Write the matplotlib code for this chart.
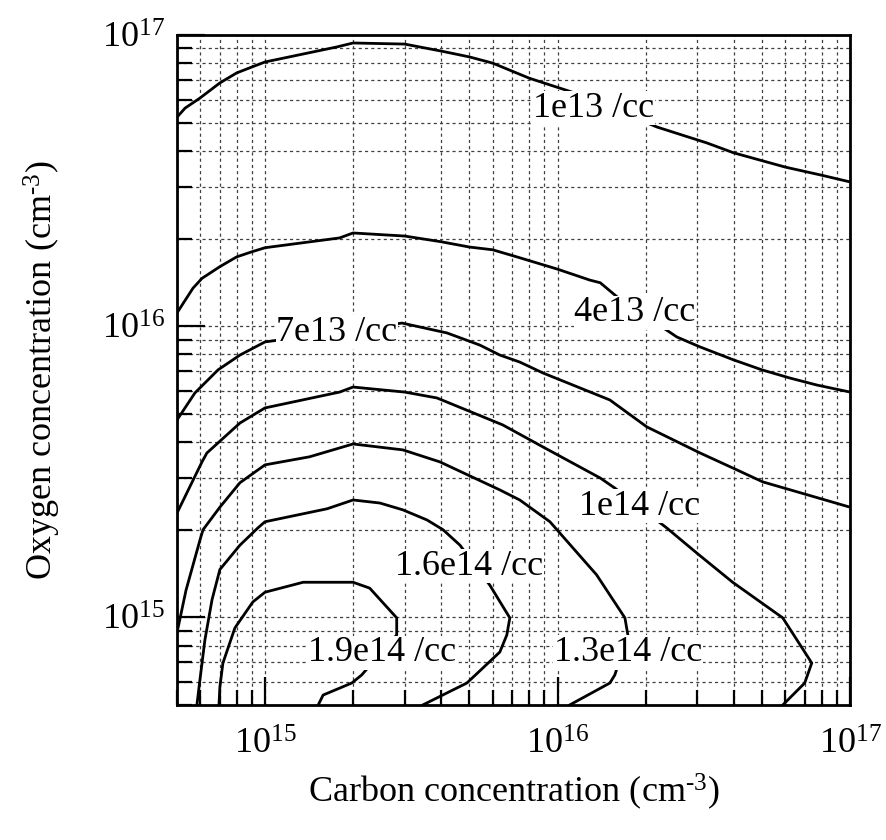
import matplotlib
matplotlib.use('Agg')
from matplotlib import pyplot as plt
from matplotlib.ticker import NullFormatter

plt.rcParams['font.family'] = ['Liberation Serif', 'DejaVu Serif']
plt.rcParams['mathtext.fontset'] = 'custom'
plt.rcParams['mathtext.rm'] = 'Liberation Serif'
plt.rcParams['mathtext.it'] = 'Liberation Serif:italic'

# contour lines (carbon, oxygen in cm^-3)
c1e13_x = [5.0e14, 5.33e14, 6.0e14, 7.0e14, 8.0e14, 9.0e14, 1.0e15, 1.76e15,
           2.0e15, 3.0e15, 4.0e15, 5.0e15, 6.0e15, 8.0e15, 1.12e16, 2.19e16,
           3.24e16, 4.0e16, 6.0e16, 8.0e16, 1.0e17]
c1e13_y = [5.22e16, 5.61e16, 6.08e16, 6.84e16, 7.41e16, 7.76e16, 8.08e16,
           9.10e16, 9.39e16, 9.31e16, 8.81e16, 8.41e16, 8.01e16, 7.11e16,
           6.37e16, 4.83e16, 4.26e16, 3.94e16, 3.52e16, 3.30e16, 3.13e16]

c4e13_x = [5.0e14, 5.67e14, 6.09e14, 7.0e14, 8.0e14, 9.0e14, 1.0e15, 1.8e15,
           2.0e15, 3.0e15, 4.0e15, 5.0e15, 6.0e15, 7.26e15, 1.0e16, 1.29e16,
           1.4e16, 1.6e16, 2.56e16, 3.07e16, 4.0e16, 5.0e16, 6.22e16, 7.7e16,
           1.0e17]
c4e13_y = [1.11e16, 1.35e16, 1.46e16, 1.60e16, 1.73e16, 1.80e16, 1.86e16,
           2.01e16, 2.09e16, 2.04e16, 1.95e16, 1.87e16, 1.83e16, 1.73e16,
           1.57e16, 1.44e16, 1.41e16, 1.26e16, 9.18e15, 8.49e15, 7.66e15,
           7.08e15, 6.64e15, 6.28e15, 5.94e15]

c7e13_x = [5.0e14, 5.76e14, 6.91e14, 8.21e14, 1.0e15, 2.94e15, 4.19e15,
           5.43e15, 6.35e15, 7.43e15, 8.91e15, 1.51e16, 2.02e16, 3.07e16,
           3.97e16, 5.03e16, 1.0e17]
c7e13_y = [4.76e15, 5.90e15, 7.08e15, 7.96e15, 8.83e15, 1.025e16, 9.48e15,
           8.61e15, 7.96e15, 7.53e15, 6.91e15, 5.58e15, 4.51e15, 3.67e15,
           3.26e15, 2.92e15, 2.39e15]

c1e14_x = [5.0e14, 6.09e14, 6.33e14, 8.21e14, 1.0e15, 1.8e15, 2.0e15, 3.0e15,
           3.87e15, 6.5e15, 8.91e15, 1.4e16, 1.57e16, 2.36e16, 3.0e16,
           3.97e16, 5.89e16, 7.4e16, 7.0e16, 5.89e16]
c1e14_y = [2.28e15, 3.42e15, 3.67e15, 4.65e15, 5.24e15, 5.94e15, 6.18e15,
           5.94e15, 5.67e15, 4.58e15, 3.85e15, 3.01e15, 2.78e15, 2.03e15,
           1.66e15, 1.32e15, 9.96e14, 6.97e14, 5.95e14, 5.0e14]

c13e14_x = [5.0e14, 5.37e14, 5.99e14, 6.14e14, 7.01e14, 8.21e14, 1.0e15,
            1.42e15, 2.0e15, 2.96e15, 3.96e15, 6.35e15, 7.43e15, 9.42e15,
            1.36e16, 1.70e16, 1.74e16, 1.57e16, 1.51e16, 1.10e16]
c13e14_y = [8.84e14, 1.24e15, 1.84e15, 2.0e15, 2.39e15, 2.90e15, 3.34e15,
            3.56e15, 3.94e15, 3.76e15, 3.42e15, 2.74e15, 2.53e15, 2.13e15,
            1.40e15, 9.96e14, 8.70e14, 6.34e14, 5.95e14, 5.0e14]

c16e14_x = [5.85e14, 5.99e14, 6.23e14, 6.59e14, 7.01e14, 8.21e14, 9.46e14,
            1.0e15, 1.63e15, 2.0e15, 2.47e15, 2.96e15, 3.58e15, 4.06e15,
            4.64e15, 5.87e15, 6.87e15, 6.71e15, 6.35e15, 4.90e15, 3.46e15]
c16e14_y = [5.0e14, 6.09e14, 8.36e14, 1.15e15, 1.46e15, 1.77e15, 2.03e15,
            2.13e15, 2.36e15, 2.53e15, 2.47e15, 2.34e15, 2.16e15, 2.0e15,
            1.77e15, 1.29e15, 9.96e14, 8.70e14, 7.60e14, 5.95e14, 5.0e14]

c19e14_x = [6.96e14, 7.01e14, 7.18e14, 7.89e14, 9.09e14, 1.0e15, 1.35e15,
            2.0e15, 2.28e15, 2.82e15, 2.82e15, 2.14e15, 1.98e15, 1.58e15,
            1.52e15]
c19e14_y = [5.0e14, 5.77e14, 6.97e14, 9.20e14, 1.13e15, 1.22e15, 1.32e15,
            1.32e15, 1.26e15, 9.96e14, 8.70e14, 6.34e14, 5.95e14, 5.41e14,
            5.0e14]

level_names = ['1e13 /cc', '4e13 /cc', '7e13 /cc', '1e14 /cc',
               '1.3e14 /cc', '1.6e14 /cc', '1.9e14 /cc']
lines = [(c1e13_x, c1e13_y), (c4e13_x, c4e13_y), (c7e13_x, c7e13_y),
         (c1e14_x, c1e14_y), (c13e14_x, c13e14_y), (c16e14_x, c16e14_y),
         (c19e14_x, c19e14_y)]

# where each level label sits on its line
label_at = [(1.33e16, 5.61e16), (1.84e16, 1.11e16), (1.76e15, 9.55e15),
            (1.91e16, 2.41e15), (1.74e16, 7.57e14), (4.98e15, 1.50e15),
            (2.51e15, 7.55e14)]

fig = plt.figure(figsize=(8.87, 8.4), dpi=100)
ax = fig.add_axes([0.1995, 0.1607, 0.7588, 0.7976])

for (xs, ys) in lines:
    ax.plot(xs, ys, color='black', lw=2.0, zorder=3)

for name, (lx, ly) in zip(level_names, label_at):
    ax.text(lx, ly, name, fontsize=26, ha='center', va='center', zorder=4,
            bbox=dict(facecolor='white', edgecolor='none', pad=0.5))

ax.set_xscale('log')
ax.set_yscale('log')
ax.set_xlim(5e14, 1e17)
ax.set_ylim(5e14, 1e17)
ax.xaxis.set_minor_formatter(NullFormatter())
ax.yaxis.set_minor_formatter(NullFormatter())

ax.grid(which='both', linestyle=(0, (2.5, 2.5)), linewidth=0.9,
        color='0.25', zorder=1)
ax.tick_params(which='both', direction='in', top=False, right=False,
               width=1.6, labelsize=26)
ax.tick_params(which='major', length=20)
ax.tick_params(which='minor', length=11)
ax.tick_params(axis='x', pad=17)
ax.tick_params(axis='y', pad=9)
for sp in ax.spines.values():
    sp.set_linewidth(2)

ax.set_xlabel(r'Carbon concentration (cm$^{\text{-3}}$)', fontsize=26)
ax.set_ylabel(r'Oxygen concentration (cm$^{\text{-3}}$)', fontsize=26)
ax.xaxis.set_label_coords(0.5, -0.10)
ax.yaxis.set_label_coords(-0.17, 0.5)

fig.savefig('out.png', dpi=100)
